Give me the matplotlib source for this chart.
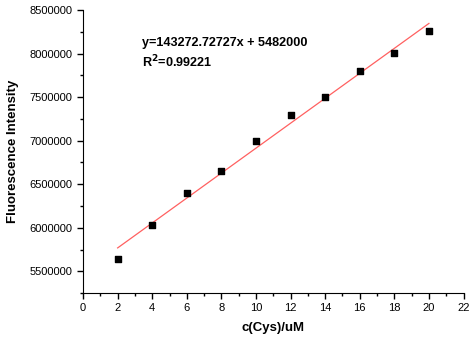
import numpy as np
import matplotlib
matplotlib.use("Agg")
import matplotlib.pyplot as plt
from matplotlib.ticker import MultipleLocator

plt.rcParams['font.family'] = ['Liberation Sans', 'DejaVu Sans']

conc = [2, 4, 6, 8, 10, 12, 14, 16, 18, 20]
intensity = [5640000, 6030000, 6400000, 6650000, 7000000,
             7290000, 7500000, 7800000, 8010000, 8260000]

slope, intercept = np.polyfit(conc, intensity, 1)
fit = [slope * c + intercept for c in conc]

fig = plt.figure(figsize=(4.72, 3.38), dpi=100)
ax = fig.add_axes([0.176, 0.133, 0.806, 0.837])

ax.plot(conc, fit, color='#ff6060', lw=0.9)
ax.scatter(conc, intensity, marker='s', s=24, color='black', zorder=3)

ax.set_xlim(0, 22)
ax.set_ylim(5250000, 8500000)
ax.xaxis.set_major_locator(MultipleLocator(2))
ax.xaxis.set_minor_locator(MultipleLocator(1))
ax.yaxis.set_major_locator(MultipleLocator(500000))
ax.yaxis.set_minor_locator(MultipleLocator(250000))
ax.ticklabel_format(axis='y', style='plain', useOffset=False)
ax.tick_params(which='major', length=4, width=1, labelsize=8, direction='out')
ax.tick_params(which='minor', length=2.5, width=1, direction='out')

ax.spines['top'].set_visible(False)
ax.spines['right'].set_visible(False)

ax.set_xlabel('c(Cys)/uM', fontsize=9.5, fontweight='bold', labelpad=6)
ax.set_ylabel('Fluorescence Intensity', fontsize=9.5, fontweight='bold', labelpad=8)

ax.text(3.4, 8120000, 'y=143272.72727x + 5482000', fontsize=9.1, fontweight='bold',
        va='center')
ax.text(3.4, 7900000, r'R$^{\mathbf{2}}$=0.99221', fontsize=9.1, fontweight='bold',
        va='center')

fig.savefig('out.png', dpi=100)
